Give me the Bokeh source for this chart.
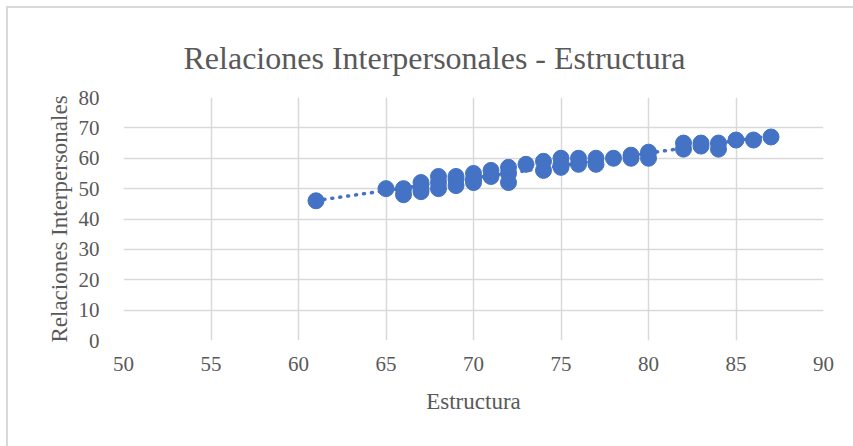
import numpy as np
from bokeh.plotting import figure
from bokeh.models import ColumnDataSource, FixedTicker, Title
from bokeh.embed import file_html
from bokeh.resources import INLINE

# Estructura (x) and Relaciones Interpersonales (y) scores
estructura = [61, 65, 66, 66, 67, 67, 67, 68, 68, 68, 69, 69, 69, 70, 70, 70,
              71, 71, 72, 72, 72, 73, 74, 74, 75, 75, 75, 76, 76, 77, 77, 78,
              79, 79, 80, 80, 82, 82, 83, 83, 84, 84, 85, 86, 87]
relaciones = [46, 50, 48, 50, 49, 50, 52, 50, 52, 54, 51, 53, 54, 52, 53, 55,
              54, 56, 52, 55, 57, 58, 56, 59, 57, 58, 60, 58, 60, 58, 60, 60,
              60, 61, 60, 62, 63, 65, 64, 65, 63, 65, 66, 66, 67]

x_ticks = [50, 55, 60, 65, 70, 75, 80, 85, 90]
y_ticks = [0, 10, 20, 30, 40, 50, 60, 70, 80]

FONT = "Liberation Serif"
GREY = "#595959"
BLUE = "#4472C4"

src = ColumnDataSource(dict(x=estructura, y=relaciones))

# linear trend line over the observed x range
slope, intercept = np.polyfit(estructura, relaciones, 1)
tx = [min(estructura), max(estructura)]
ty = [slope * v + intercept for v in tx]

p = figure(width=847, height=440, x_range=(50, 90), y_range=(0, 80),
           output_backend="svg", toolbar_location=None,
           min_border_left=115, min_border_right=32,
           min_border_top=89, min_border_bottom=108,
           margin=(6, 0, 0, 6))
p.styles = {"border-top": "2px solid #d9d9d9", "border-left": "2px solid #d9d9d9"}

p.title = Title(text="Relaciones Interpersonales - Estructura", align="left",
                offset=60, text_font=FONT, text_font_size="32px",
                text_font_style="normal", text_color=GREY)
p.title.standoff = 44

p.outline_line_color = None
p.background_fill_color = "white"
p.border_fill_color = "white"

for ax in (p.xaxis, p.yaxis):
    ax.axis_line_color = None
    ax.major_tick_line_color = None
    ax.minor_tick_line_color = None
    ax.major_label_text_font = FONT
    ax.major_label_text_font_size = "21px"
    ax.major_label_text_color = GREY
    ax.axis_label_text_font = FONT
    ax.axis_label_text_font_size = "23px"
    ax.axis_label_text_font_style = "normal"
    ax.axis_label_text_color = GREY

p.xaxis.ticker = FixedTicker(ticks=x_ticks)
p.yaxis.ticker = FixedTicker(ticks=y_ticks)
p.xaxis.axis_label = "Estructura"
p.yaxis.axis_label = "Relaciones Interpersonales"
p.xaxis.major_label_standoff = 10
p.yaxis.major_label_standoff = 18
p.xaxis.axis_label_standoff = 15
p.yaxis.axis_label_standoff = 4

p.xgrid.grid_line_color = "#d9d9d9"
p.ygrid.grid_line_color = "#d9d9d9"
p.xgrid.grid_line_width = 1.5
p.ygrid.grid_line_width = 1.5

p.line(tx, ty, line_color=BLUE, line_width=3.5, line_dash="1 7", line_cap="round")
p.scatter("x", "y", source=src, size=16, fill_color=BLUE, line_color=BLUE)

open("out.html", "w").write(file_html(p, INLINE))
